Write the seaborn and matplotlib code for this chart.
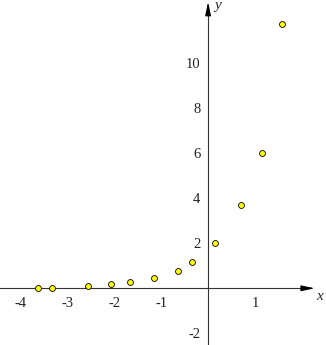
import matplotlib
matplotlib.use("Agg")
import matplotlib.pyplot as plt
import seaborn as sns
import pandas as pd

x_vals = [-3.63, -3.32, -2.55, -2.06, -1.66, -1.15, -0.65, -0.34, 0.14, 0.70, 1.15, 1.57]
y_vals = [0.00, 0.03, 0.12, 0.19, 0.27, 0.44, 0.75, 1.18, 2.00, 3.69, 6.00, 11.73]
x_ticks = [-4, -3, -2, -1, 1]
y_ticks = [-2, 2, 4, 6, 8, 10]

sns.set_style("white")
plt.rcParams['font.family'] = ['Liberation Serif', 'DejaVu Serif']
plt.rcParams['axes.unicode_minus'] = False

fig = plt.figure(figsize=(3.26, 3.45), dpi=100)
ax = fig.add_axes([0, 0, 1, 1])
ax.set_xlim(-4.43, 2.51)
ax.set_ylim(-2.52, 12.81)

for s in ['top', 'right']:
    ax.spines[s].set_visible(False)
ax.spines['left'].set_position(('data', 0))
ax.spines['bottom'].set_position(('data', 0))
ax.spines['left'].set_bounds(-2.52, 12.5)
ax.spines['bottom'].set_bounds(-4.43, 2.1)
for s in ['left', 'bottom']:
    ax.spines[s].set_color('#333333')
    ax.spines[s].set_linewidth(0.8)

# arrow heads
arrow = dict(arrowstyle='-|>,head_length=0.8,head_width=0.17', color='black', lw=0.8,
             shrinkA=0, shrinkB=0)
ax.annotate('', xy=(2.27, 0), xytext=(2.0, 0), arrowprops=arrow, annotation_clip=False)
ax.annotate('', xy=(0, 12.72), xytext=(0, 12.2), arrowprops=arrow, annotation_clip=False)

ax.set_xticks(x_ticks)
ax.set_xticklabels([str(t) for t in x_ticks])
ax.set_yticks(y_ticks)
ax.set_yticklabels([str(t) for t in y_ticks])
ax.tick_params(axis='both', direction='inout', length=5, width=0.7, color='#333333',
               labelsize=10.5, labelcolor='#222222')
ax.tick_params(axis='x', pad=4)
ax.tick_params(axis='y', pad=3)

df = pd.DataFrame({'x': x_vals, 'y': y_vals})
sns.scatterplot(data=df, x='x', y='y', ax=ax, s=18, color='#FFFF00',
                edgecolor='black', linewidth=0.6, zorder=5, clip_on=False)
ax.set_xlabel('')
ax.set_ylabel('')

ax.text(2.38, -0.35, 'x', fontsize=11, style='italic', ha='center', va='center')
ax.text(0.2, 12.55, 'y', fontsize=11, style='italic', ha='center', va='center')

fig.savefig('out.png', dpi=100)
